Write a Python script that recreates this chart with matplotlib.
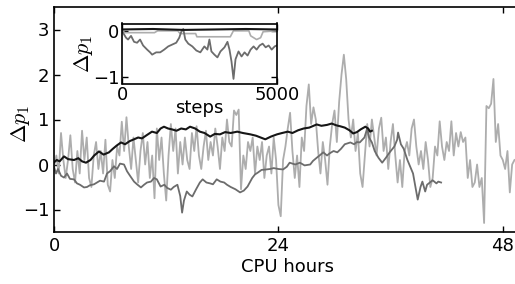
import numpy as np
import matplotlib
matplotlib.use("Agg")
import matplotlib.pyplot as plt

plt.rcParams["font.family"] = "DejaVu Sans"
plt.rcParams["mathtext.fontset"] = "cm"
plt.rcParams["font.size"] = 13

BLACK, DARK, LIGHT = "#161616", "#6c6c6c", "#adadad"

# light grey run, sampled every 0.25 CPU hours
light_step = 0.25
light_dp = [
    -0.05, 0.2, -0.2, 0.7, 0.1, -0.3, 0.1, 0.65, -0.1, -0.4, 0.3, -0.2,
    0.75, 0.1, 0.6, -0.3, -0.5, 0.2, 0.5, -0.1, 0.3, -0.2, 0.55, -0.45,
    -0.6, 0.1, -0.3, 0.4, 0.2, 0.95, 0.3, 1.05, 0.4, -0.1, 0.6, 0.1,
    -0.4, 0.3, 0.7, 0.0, 0.5, -0.3, 0.2, -0.75, 0.8, 0.1, 0.6, -0.2,
    -0.8, 0.2, 0.9, 0.3, 0.8, -0.2, 0.5, 0.0, 0.6, 0.1, -0.1, 0.7,
    0.3, 0.85, 0.2, -0.1, 0.4, 0.75, 0.1, 0.5, 0.2, 0.8, 0.4, -0.1,
    0.6, 0.3, 1.0, 0.5, 0.4, 1.2, 1.1, 1.22, -0.55, 0.2, -0.1, 0.5,
    0.3, 0.6, -0.2, 0.4, 0.1, 0.5, -0.3, 0.2, 0.4, -0.2, 0.6, 0.1,
    -0.9, -1.15, 0.1, 0.4, 0.8, 1.15, 0.3, -0.3, 0.2, -0.5, 0.6, 0.3,
    1.3, 1.78, 0.9, 1.27, 1.0, 0.3, -0.2, 0.5, 0.1, -0.45, 0.4, 0.9,
    1.2, 0.5, 1.4, 2.0, 2.44, 1.9, 1.0, 0.6, 1.0, 0.3, 0.7, -0.2,
    -0.5, 0.2, 0.9, 0.4, 1.0, 0.6, 0.2, 0.8, 1.04, 0.3, 0.6, -0.1,
    0.5, 0.9, 0.2, -0.4, 0.1, -0.5, 0.3, 0.5, 0.2, 0.8, 1.0, 0.4,
    0.0, 0.3, -0.1, 0.5, 0.1, -0.5, -0.3, 0.4, 0.2, 0.96, 0.4, 0.1,
    0.5, 0.3, 0.96, 0.2, 0.7, 0.4, 0.72, 0.5, 0.6, -0.3, 0.1, -0.5,
    -0.4, 0.0, -0.5, -0.3, -1.3, 1.3, 1.25, 1.35, 1.9, 0.5, 0.9, 0.2,
    0.1, -0.1, 0.3, -0.62, 0.0, 0.1,
]
light_t = np.arange(len(light_dp)) * light_step

dark_t = [
    0.0, 0.21, 0.43, 0.75, 1.07, 1.39, 1.71, 2.14, 2.46, 2.78, 3.21, 3.53,
    3.85, 4.28, 4.6, 4.92, 5.35, 5.67, 5.99, 6.42, 6.74, 7.06, 7.49, 7.81,
    8.13, 8.56, 8.88, 9.3, 9.63, 9.95, 10.37, 10.7, 11.0, 11.4, 11.8, 12.1,
    12.5, 12.8, 13.2, 13.5, 13.7, 13.9, 14.2, 14.5, 14.8, 15.2, 15.6, 15.9,
    16.3, 16.7, 17.0, 17.4, 17.8, 18.2, 18.5, 18.9, 19.4, 19.9, 20.3, 20.7,
    21.2, 21.5, 21.8, 22.2, 22.7, 23.1, 23.5, 24.0, 24.5, 24.9, 25.2, 25.8,
    26.3, 26.8, 27.4, 27.7, 28.1, 28.4, 28.8, 29.2, 29.5, 29.9, 30.3, 30.7,
    31.1, 31.7, 32.1, 32.4, 32.7, 33.2, 33.5, 33.7, 34.0, 34.3, 34.7, 35.1,
    35.5, 35.9, 36.4, 36.7, 36.8, 37.1, 37.4, 37.8, 38.1, 38.4, 38.7, 38.9,
    39.2, 39.4, 39.7, 39.9, 40.2, 40.5, 40.9, 41.1, 41.4,
]
dark_dp = [
    -0.05, -0.2, -0.1, -0.25, -0.29, -0.2, -0.32, -0.33, -0.42, -0.45, -0.51, -0.5,
    -0.46, -0.44, -0.4, -0.36, -0.38, -0.2, -0.15, -0.04, -0.1, 0.02, 0.0, -0.15,
    -0.25, -0.38, -0.44, -0.51, -0.45, -0.4, -0.38, -0.3, -0.33, -0.49, -0.45, -0.52,
    -0.56, -0.5, -0.45, -0.7, -1.07, -0.8, -0.6, -0.67, -0.71, -0.55, -0.4, -0.33,
    -0.4, -0.42, -0.44, -0.33, -0.38, -0.4, -0.45, -0.5, -0.55, -0.62, -0.58, -0.49,
    -0.3, -0.22, -0.18, -0.12, -0.11, -0.1, -0.08, -0.1, -0.11, -0.05, 0.04, 0.0,
    0.04, -0.02, 0.0, 0.08, 0.15, 0.2, 0.27, 0.2, 0.25, 0.3, 0.27, 0.35,
    0.45, 0.49, 0.45, 0.5, 0.49, 0.6, 0.8, 0.6, 0.49, 0.3, 0.15, 0.04,
    0.15, 0.27, 0.4, 0.55, 0.71, 0.45, 0.35, 0.1, -0.05, -0.2, -0.55, -0.78,
    -0.5, -0.38, -0.6, -0.45, -0.4, -0.35, -0.42, -0.38, -0.4,
]

black_t = [
    0.0, 0.3, 0.6, 1.07, 1.5, 2.14, 2.6, 3.0, 3.42, 3.9, 4.3, 4.81, 5.3, 5.88,
    6.3, 6.7, 7.17, 7.6, 8.1, 8.56, 9.0, 9.41, 9.9, 10.48, 11.0, 11.4, 11.76,
    12.2, 12.62, 13.1, 13.6, 14.1, 14.55, 15.1, 15.6, 16.1, 16.7, 17.2, 17.75,
    18.3, 18.9, 19.6, 20.2, 21.0, 21.6, 22.1, 22.6, 23.2, 23.85, 24.4, 25.0,
    25.5, 26.1, 26.7, 27.3, 28.1, 28.6, 29.2, 29.7, 30.2, 30.6, 31.1, 31.6,
    32.0, 32.4, 32.8, 33.3, 33.6, 33.8, 34.0,
]
black_dp = [
    0.05, 0.1, 0.07, 0.18, 0.12, 0.1, 0.14, 0.07, 0.04, 0.1, 0.2, 0.29, 0.22, 0.27,
    0.35, 0.42, 0.49, 0.45, 0.52, 0.56, 0.6, 0.58, 0.65, 0.73, 0.7, 0.8, 0.84,
    0.8, 0.78, 0.75, 0.8, 0.78, 0.84, 0.8, 0.73, 0.7, 0.62, 0.68, 0.67,
    0.72, 0.7, 0.73, 0.7, 0.67, 0.64, 0.6, 0.56, 0.62, 0.67, 0.7, 0.73,
    0.7, 0.76, 0.8, 0.82, 0.89, 0.86, 0.88, 0.91, 0.87, 0.85, 0.82, 0.76,
    0.69, 0.72, 0.78, 0.84, 0.8, 0.73, 0.75,
]

# inset: first 5000 steps
in_dark_s = [
    0, 32, 130, 195, 292, 390, 487, 584, 682, 812, 909, 974, 1104, 1234, 1364,
    1494, 1623, 1753, 1851, 1916, 1981, 2045, 2143, 2273, 2403, 2532, 2662,
    2760, 2825, 2890, 2987, 3084, 3182, 3312, 3409, 3474, 3539, 3604, 3669,
    3766, 3864, 3961, 4058, 4156, 4253, 4351, 4448, 4545, 4643, 4740, 4838,
    4935, 5000,
]
in_dark_dp = [
    0.0, -0.04, -0.15, -0.19, -0.11, -0.24, -0.26, -0.19, -0.32, -0.41, -0.47,
    -0.52, -0.47, -0.47, -0.41, -0.34, -0.30, -0.26, -0.15, -0.02, 0.04, -0.19,
    -0.28, -0.34, -0.43, -0.47, -0.34, -0.41, -0.19, -0.45, -0.52, -0.58, -0.45,
    -0.36, -0.24, -0.41, -0.67, -1.05, -0.62, -0.45, -0.56, -0.47, -0.54, -0.41,
    -0.34, -0.41, -0.32, -0.28, -0.36, -0.32, -0.41, -0.34, -0.32,
]
in_light_s = [0, 100, 1050, 1150, 1800, 1880, 2380, 2420, 3500, 3600, 4100,
              4160, 4350, 4480, 4560, 5000]
in_light_dp = [0.0, -0.04, -0.04, 0.0, 0.0, -0.06, -0.06, -0.13, -0.13, 0.0,
               0.0, -0.11, -0.19, -0.15, -0.02, 0.0]
in_black_s = [0, 1000, 2000, 3000, 4000, 5000]
in_black_dp = [0.03, 0.04, 0.02, 0.03, 0.04, 0.03]


fig = plt.figure(figsize=(5.15, 2.84), dpi=100)
ax = fig.add_axes([54 / 515, 1 - 232 / 284, 467.5 / 515, 225 / 284])
ax.plot(light_t, light_dp, color=LIGHT, lw=1.3)
ax.plot(dark_t, dark_dp, color=DARK, lw=1.3)
ax.plot(black_t, black_dp, color=BLACK, lw=1.5)
ax.set_xlim(0, 50)
ax.set_ylim(-1.5, 3.5)
ax.set_xticks([0, 24, 48])
ax.set_yticks([-1, 0, 1, 2, 3])
ax.set_xlabel("CPU hours", labelpad=2)
ax.set_ylabel(r"$\Delta p_1$", fontsize=16)
ax.yaxis.set_label_coords(-0.047, 0.48)
ax.tick_params(direction="in", top=True, right=True, length=4, width=1)
for sp in ax.spines.values():
    sp.set_linewidth(1.2)

ins = fig.add_axes([122 / 515, 1 - 83.5 / 284, 154.7 / 515, 60 / 284])
ins.plot(in_light_s, in_light_dp, color=LIGHT, lw=1.2)
ins.plot(in_dark_s, in_dark_dp, color=DARK, lw=1.3)
ins.plot(in_black_s, in_black_dp, color=BLACK, lw=1.5)
ins.set_xlim(0, 5000)
ins.set_ylim(-1.15, 0.16)
ins.set_xticks([0, 5000])
ins.set_yticks([-1, 0])
ins.set_xlabel("steps", labelpad=-4)
ins.set_ylabel(r"$\Delta p_1$", fontsize=16)
ins.yaxis.set_label_coords(-0.175, 0.5)
ins.tick_params(direction="in", top=True, right=True, length=4, width=1, pad=2)
for sp in ins.spines.values():
    sp.set_linewidth(1.2)

fig.savefig("out.png", dpi=100)
